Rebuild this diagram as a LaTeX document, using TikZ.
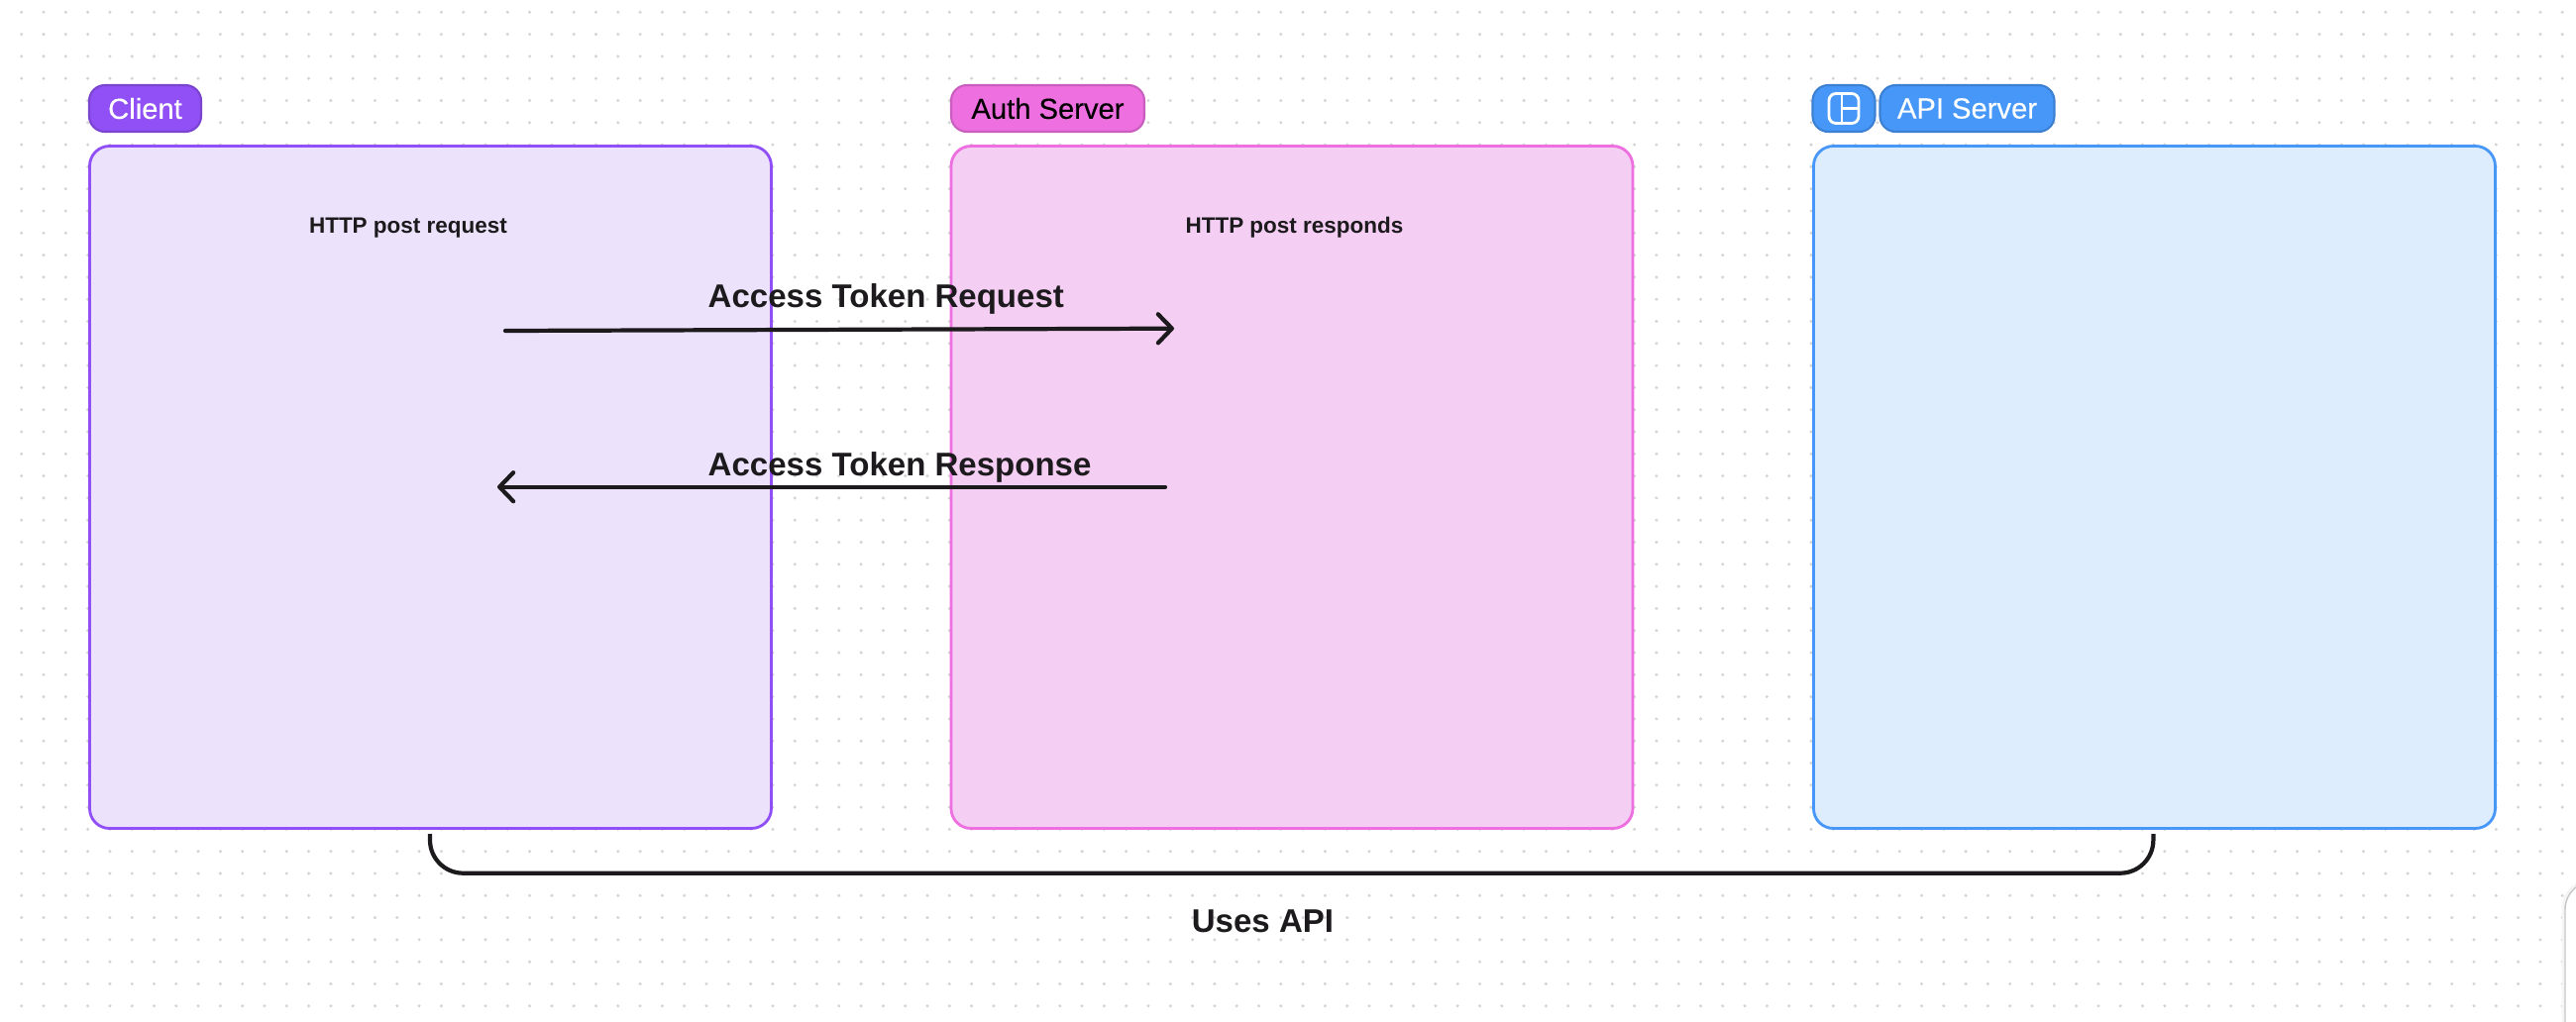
\documentclass[tikz,border=0pt]{standalone}
\usepackage{fontspec}
\setmainfont{Liberation Sans}
\newfontfamily\tagfont[FakeBold=0.25]{Liberation Sans}
\usetikzlibrary{positioning,arrows.meta,calc}
\definecolor{clientc}{HTML}{9050F5}
\definecolor{clientf}{HTML}{ECE2FC}
\definecolor{authc}{HTML}{EE6FE0}
\definecolor{authf}{HTML}{F4CEF3}
\definecolor{apic}{HTML}{4797F8}
\definecolor{apif}{HTML}{DEEDFE}
\definecolor{inkc}{HTML}{1C1A1C}
\definecolor{dotc}{HTML}{D4D4D4}

\begin{document}
\begin{tikzpicture}[x=0.1mm,y=-0.1mm,
  panelbox/.style={draw=#1c,fill=#1f,line width=0.8pt,rounded corners=5.7pt,minimum width=68.8mm,minimum height=68.9mm,inner sep=0pt,outer sep=0pt},
  tagbox/.style={draw=#1c!85!black,fill=#1c,line width=0.6pt,rounded corners=4.5pt,minimum height=4.7mm,inner sep=0pt,outer sep=0pt,font=\tagfont\fontsize{8.3}{10}\selectfont},
  flow/.style={draw=inkc,line width=1.2pt,line cap=round,-{Straight Barb[length=1.4mm,width=2.9mm,line width=1.2pt,round]}},
  brace/.style={draw=inkc,line width=1.2pt,rounded corners=9.5pt},
  lbl/.style={text=inkc,font=\fontsize{9.4}{12}\bfseries\selectfont,inner sep=0pt},
  note/.style={text=inkc,font=\fontsize{6.4}{8}\bfseries\selectfont,inner sep=0pt}]
  \useasboundingbox (0,0) rectangle (2600,1032);
  \fill[white] (0,0) rectangle (2600,1032);
  % dotted canvas
  \foreach \i in {0,...,116} {
    \foreach \j in {0,...,45} {
      \fill[dotc] ({21.7+22.3*\i},{12.3+22.3*\j}) circle (0.48pt);
    }
  }
  % corner of the widget
  \draw[draw=black!4,line width=2pt,rounded corners=8pt] (2589,890) rectangle (2680,1100);
  \draw[draw=black!22,fill=white,line width=0.4pt,rounded corners=8pt] (2589,890) rectangle (2680,1100);

  % panels
  \node[panelbox=client,anchor=north west] (client) at (90.5,147.5) {};
  \node[panelbox=auth,right=18.15mm of client] (auth) {};
  \node[panelbox=api,right=18.25mm of auth] (api) {};

  % tags
  \node[tagbox=client,text=white,anchor=south west,minimum width=11.3mm] (clienttag) at (90,133) {Client};
  \node[tagbox=auth,text=black,anchor=south west,minimum width=19.5mm] (authtag) at (960,133) {Auth Server};
  \node[tagbox=api,anchor=south west,minimum width=6.3mm] (apiicon) at (1829.5,133) {};
  \node[tagbox=api,text=white,right=0.5mm of apiicon,minimum width=17.6mm] (apitag) {API Server};
  \draw[white,line width=0.8pt,rounded corners=2pt] ($(apiicon)+(-15,-15)$) rectangle ($(apiicon)+(15,15)$);
  \draw[white,line width=0.8pt] ($(apiicon)+(-2,-15)$) -- ($(apiicon)+(-2,15)$);
  \draw[white,line width=0.8pt] ($(apiicon)+(-2,0)$) -- ($(apiicon)+(15,0)$);

  % notes
  \node[note,anchor=base] (reqnote) at (412,235) {HTTP post request};
  \node[note,anchor=base] (respnote) at (1306.5,235) {HTTP post responds};

  % token exchange
  \coordinate (reqa) at (510,334);
  \coordinate (reqb) at (1185,331.7);
  \coordinate (respa) at (1176,491.7);
  \coordinate (respb) at (502,491.7);
  \draw[flow] (reqa) -- (reqb);
  \draw[flow] (respa) -- (respb);
  \node[lbl,anchor=base west] (reqlbl) at (714,310.7) {Access Token Request};
  \node[lbl,anchor=base west] (resplbl) at (714,480.7) {Access Token Response};

  % api usage
  \coordinate (usea) at (434,842);
  \coordinate (useb) at (2173.4,842);
  \draw[brace] (usea) -- (434,881.7) -- (2173.4,881.7) -- (useb);
  \node[lbl,anchor=base] (uselbl) at (1274.5,941.7) {Uses API};
\end{tikzpicture}
\end{document}
